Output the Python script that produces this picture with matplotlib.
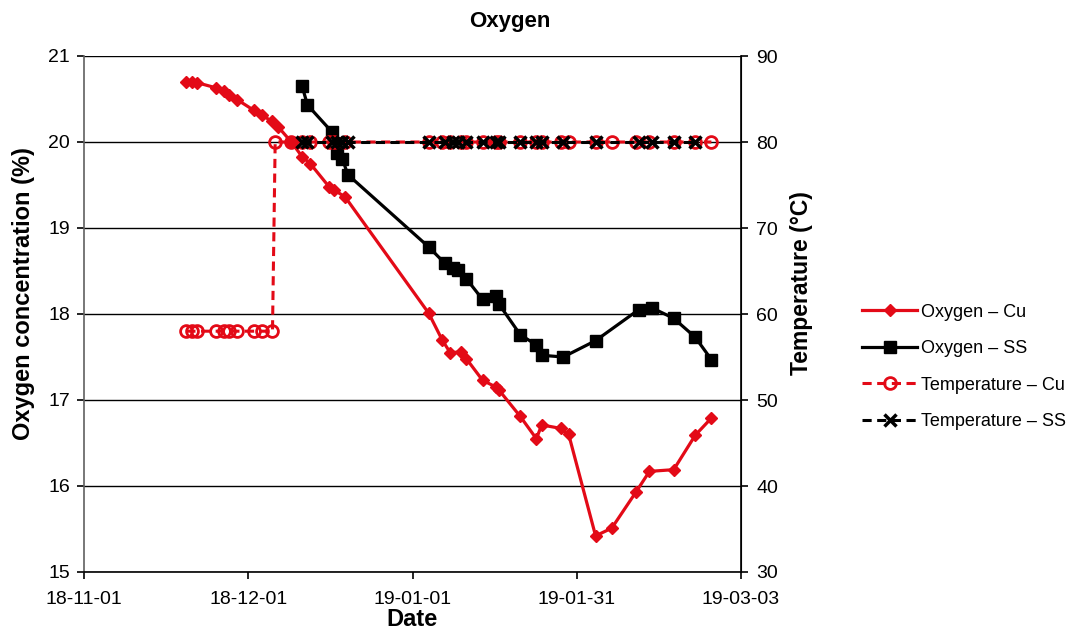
import matplotlib
matplotlib.use("Agg")
import matplotlib.pyplot as plt
import matplotlib.dates as mdates
import pandas as pd
import numpy as np

plt.rcParams['font.family'] = ['Liberation Sans', 'DejaVu Sans']

# ---- data ----
cu_o2_dates = ["2018-11-20", "2018-11-21", "2018-11-22", "2018-11-25 12:00", "2018-11-27",
               "2018-11-28", "2018-11-29 12:00", "2018-12-02 12:00", "2018-12-04", "2018-12-06",
               "2018-12-07", "2018-12-09 12:00", "2018-12-11 12:00", "2018-12-13", "2018-12-16 12:00",
               "2018-12-17 12:00", "2018-12-19 12:00", "2019-01-04", "2019-01-06 12:00", "2019-01-08",
               "2019-01-10", "2019-01-11", "2019-01-14", "2019-01-16 12:00", "2019-01-17",
               "2019-01-21", "2019-01-24", "2019-01-25", "2019-01-28 12:00", "2019-01-30",
               "2019-02-04", "2019-02-07", "2019-02-11 12:00", "2019-02-14", "2019-02-18 12:00",
               "2019-02-22 12:00", "2019-02-25 12:00"]
cu_o2 = [20.70, 20.70, 20.69, 20.63, 20.59,
         20.55, 20.49, 20.37, 20.31, 20.24,
         20.18, 20.00, 19.83, 19.75, 19.48,
         19.44, 19.36, 18.01, 17.70, 17.55,
         17.56, 17.48, 17.23, 17.15, 17.12,
         16.81, 16.55, 16.71, 16.67, 16.60,
         15.42, 15.51, 15.93, 16.17, 16.19,
         16.59, 16.79]

ss_o2_dates = ["2018-12-11 12:00", "2018-12-12 12:00", "2018-12-17", "2018-12-18", "2018-12-19",
               "2018-12-20", "2019-01-04", "2019-01-07", "2019-01-08 12:00", "2019-01-09 12:00",
               "2019-01-11", "2019-01-14", "2019-01-16 12:00", "2019-01-17", "2019-01-21",
               "2019-01-24", "2019-01-25", "2019-01-29", "2019-02-04", "2019-02-12",
               "2019-02-14 12:00", "2019-02-18 12:00", "2019-02-22 12:00", "2019-02-25 12:00"]
ss_o2 = [20.65, 20.43, 20.12, 19.87, 19.80,
         19.62, 18.78, 18.59, 18.53, 18.51,
         18.41, 18.17, 18.21, 18.12, 17.76,
         17.64, 17.52, 17.50, 17.69, 18.05,
         18.07, 17.95, 17.73, 17.47]

cu_temp_dates = ["2018-11-20", "2018-11-21", "2018-11-22", "2018-11-25 12:00", "2018-11-27",
                 "2018-11-28", "2018-11-29 12:00", "2018-12-02 12:00", "2018-12-04", "2018-12-06",
                 "2018-12-06 12:00", "2018-12-09 12:00", "2018-12-11 12:00", "2018-12-13", "2018-12-16 12:00",
                 "2018-12-17 12:00", "2018-12-19 12:00", "2019-01-04", "2019-01-06 12:00", "2019-01-08",
                 "2019-01-10", "2019-01-11", "2019-01-14", "2019-01-16 12:00", "2019-01-17",
                 "2019-01-21", "2019-01-24", "2019-01-25", "2019-01-28 12:00", "2019-01-30",
                 "2019-02-04", "2019-02-07", "2019-02-11 12:00", "2019-02-14", "2019-02-18 12:00",
                 "2019-02-22 12:00", "2019-02-25 12:00"]
cu_temp = [58, 58, 58, 58, 58, 58, 58, 58, 58, 58,
           80, 80, 80, 80, 80, 80, 80, 80, 80, 80,
           80, 80, 80, 80, 80, 80, 80, 80, 80, 80,
           80, 80, 80, 80, 80, 80, 80]

ss_temp_dates = ss_o2_dates[:-1]
ss_temp = [80] * len(ss_temp_dates)

x_start = "2018-11-01"
x_tick_labels = ["18-11-01", "18-12-01", "19-01-01", "19-01-31", "19-03-03"]
y_left_ticks = [15, 16, 17, 18, 19, 20, 21]
y_right_ticks = [30, 40, 50, 60, 70, 80, 90]

RED = "#E30A17"

# ---- figure ----
fig = plt.figure(figsize=(10.77, 6.35), dpi=100)
ax = fig.add_axes([84/1077, 1-572/635, (741-84)/1077, (572-56)/635])
ax2 = ax.twinx()

to_dt = lambda l: pd.to_datetime(l, format='mixed')

l1, = ax.plot(to_dt(cu_o2_dates), cu_o2, color=RED, lw=2.3, marker='D', ms=6.5,
              mec=RED, mfc=RED, label="Oxygen – Cu", zorder=3)
l2, = ax.plot(to_dt(ss_o2_dates), ss_o2, color='black', lw=2.3, marker='s', ms=9,
              mec='black', mfc='black', label="Oxygen – SS", zorder=4)
l3, = ax2.plot(to_dt(cu_temp_dates), cu_temp, color=RED, lw=2.2, ls=(0, (3, 1.8)), marker='o', ms=8.5,
               mfc='none', mec=RED, mew=2, label="Temperature – Cu", zorder=3)
l4, = ax2.plot(to_dt(ss_temp_dates), ss_temp, color='black', lw=2.2, ls=(0, (3, 1.8)), marker='x', ms=8,
               mec='black', mew=2.5, label="Temperature – SS", zorder=4)

x0 = mdates.date2num(pd.Timestamp(x_start))
xt = [x0 + 30.5 * k for k in range(len(x_tick_labels))]
ax.set_xlim(xt[0], xt[-1])
ax.set_xticks(xt)
ax.set_xticklabels(x_tick_labels)

ax.set_ylim(15, 21)
ax.set_yticks(y_left_ticks)
ax2.set_ylim(30, 90)
ax2.set_yticks(y_right_ticks)

ax.yaxis.grid(True, color='black', lw=1)
ax.set_axisbelow(True)

for a in (ax, ax2):
    a.spines['top'].set_visible(False)
ax.spines['left'].set_color('#606060')
ax.spines['bottom'].set_color('black')
ax2.spines['right'].set_color('black')
ax2.spines['left'].set_visible(False)
ax2.spines['bottom'].set_visible(False)
for s in ('left', 'bottom'):
    ax.spines[s].set_linewidth(1.2)
ax2.spines['right'].set_linewidth(1.2)

ax.tick_params(axis='y', labelsize=14, length=5, width=1.2, direction='out', pad=5)
ax.tick_params(axis='x', labelsize=14, length=5, width=1.2, direction='out', pad=9)
ax2.tick_params(axis='y', labelsize=14, length=5, width=1.2, direction='out', pad=6)

ax.set_xlabel("Date", fontsize=17, fontweight='bold', labelpad=0)
ax.set_ylabel("Oxygen concentration (%)", fontsize=17, fontweight='bold')
ax2.set_ylabel("Temperature (°C)", fontsize=16.5, fontweight='bold')
ax.yaxis.set_label_coords(-0.075, 0.54)
ax2.yaxis.set_label_coords(1.075, 0.56)
fig.text(510/1077, 1-22/635, "Oxygen", fontsize=16, fontweight='bold', ha='center', va='center')

fig.legend(handles=[l1, l2, l3, l4], loc='center left', bbox_to_anchor=(846/1077, 1-367/635),
           frameon=False, fontsize=13, handlelength=3.05, labelspacing=1.08, handletextpad=0.2)

fig.savefig("out.png", dpi=100)
